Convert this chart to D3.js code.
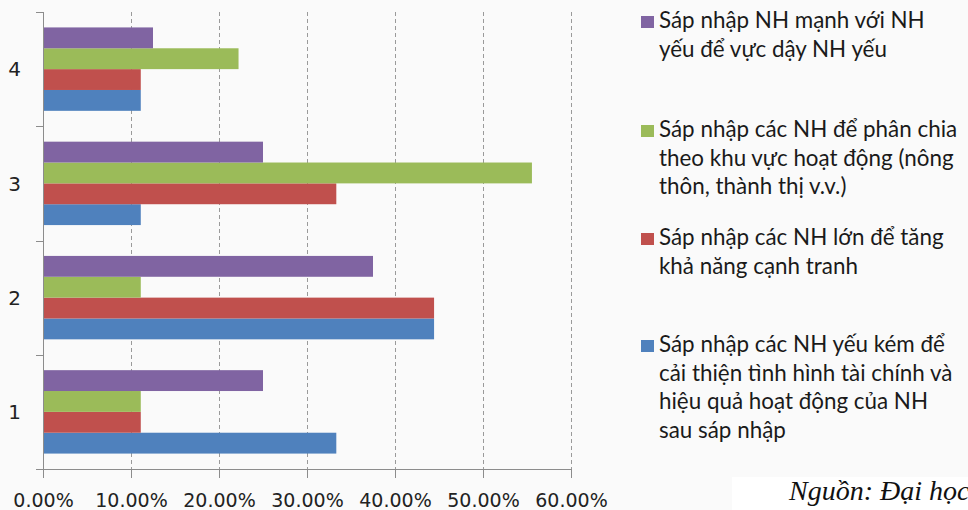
<!DOCTYPE html>
<html>
<head>
<meta charset="utf-8">
<script src="https://cdn.jsdelivr.net/npm/d3@7"></script>
<style>
  html, body { margin: 0; padding: 0; background: #fafafa; overflow: hidden; }
  svg { display: block; }
</style>
</head>
<body>
<svg id="chart" width="968" height="510"></svg>
<script>
// Categories (bottom to top on the chart)
const categories = ["1", "2", "3", "4"];

// Series, in drawing order (first series sits lowest in each group)
const seriesKeys = ["blue", "red", "green", "purple"];
const seriesColors = ["#4F81BD", "#C0504D", "#9BBB59", "#8064A2"];
const seriesLabels = [
  ["Sáp nhập các NH yếu kém để", "cải thiện tình hình tài chính và", "hiệu quả hoạt động của NH", "sau sáp nhập"],
  ["Sáp nhập các NH lớn để tăng", "khả năng cạnh tranh"],
  ["Sáp nhập các NH để phân chia", "theo khu vực hoạt động (nông", "thôn, thành thị v.v.)"],
  ["Sáp nhập NH mạnh với NH", "yếu để vực dậy NH yếu"]
];

// Shares (fraction) per category 1..4
const blueValues   = [0.3333, 0.4444, 0.1111, 0.1111];
const redValues    = [0.1111, 0.4444, 0.3333, 0.1111];
const greenValues  = [0.1111, 0.1111, 0.5556, 0.2222];
const purpleValues = [0.25,   0.375,  0.25,   0.125];
const seriesValues = [blueValues, redValues, greenValues, purpleValues];

// Axis ticks
const xTicks = [0, 0.1, 0.2, 0.3, 0.4, 0.5, 0.6];

const sourceText = "Nguồn: Đại học";

const svg = d3.select("#chart");

const plot = { left: 43, right: 571, top: 12, bottom: 469 };

const x = d3.scaleLinear().domain([0, 0.6]).range([plot.left, plot.right]);
const y0 = d3.scaleBand()
  .domain(categories.slice().reverse())
  .range([plot.top, plot.bottom])
  .paddingInner(0.27)
  .paddingOuter(0.135);
const y1 = d3.scaleBand()
  .domain(seriesKeys.slice().reverse())
  .range([0, y0.bandwidth()]);

// Vertical dashed gridlines
svg.append("g")
  .selectAll("line")
  .data(xTicks.filter(t => t > 0))
  .join("line")
  .attr("x1", d => Math.round(x(d)) + 0.5)
  .attr("x2", d => Math.round(x(d)) + 0.5)
  .attr("y1", plot.top)
  .attr("y2", plot.bottom)
  .attr("stroke", "#9a9a9a")
  .attr("stroke-width", 1)
  .attr("stroke-dasharray", "4,3");

// Bars
const rows = [];
categories.forEach((c, ci) => {
  seriesKeys.forEach((k, si) => {
    rows.push({ cat: c, key: k, value: seriesValues[si][ci], color: seriesColors[si] });
  });
});

svg.append("g")
  .selectAll("rect")
  .data(rows)
  .join("rect")
  .attr("x", x(0))
  .attr("y", d => y0(d.cat) + y1(d.key))
  .attr("width", d => x(d.value) - x(0))
  .attr("height", y1.bandwidth())
  .attr("fill", d => d.color);

// Category axis (left)
const yEdges = d3.range(categories.length + 1).map(i => plot.top + i * y0.step());
const leftAxis = svg.append("g");
leftAxis.append("line")
  .attr("x1", plot.left + 0.5).attr("x2", plot.left + 0.5)
  .attr("y1", plot.top).attr("y2", plot.bottom)
  .attr("stroke", "#8c8c8c");
leftAxis.selectAll("line.tick")
  .data(yEdges)
  .join("line")
  .attr("class", "tick")
  .attr("x1", plot.left - 7).attr("x2", plot.left)
  .attr("y1", d => Math.round(d) + 0.5).attr("y2", d => Math.round(d) + 0.5)
  .attr("stroke", "#8c8c8c");
leftAxis.selectAll("text")
  .data(categories)
  .join("text")
  .attr("x", 21)
  .attr("y", d => y0(d) + y0.bandwidth() / 2)
  .attr("dy", "0.36em")
  .attr("text-anchor", "end")
  .attr("font-family", "DejaVu Sans, sans-serif")
  .attr("font-size", 20)
  .attr("fill", "#222")
  .text(d => d);

// Value axis (bottom)
const xAxis = d3.axisBottom(x)
  .tickValues(xTicks)
  .tickSize(9)
  .tickPadding(16)
  .tickFormat(d => (d * 100).toFixed(2) + "%");
const gx = svg.append("g")
  .attr("transform", `translate(0,${plot.bottom})`)
  .call(xAxis);
gx.select(".domain").remove();
gx.selectAll(".tick line").attr("stroke", "#8c8c8c");
gx.selectAll(".tick text")
  .attr("font-family", "DejaVu Sans, sans-serif")
  .attr("font-size", 19)
  .attr("fill", "#222");
gx.append("line")
  .attr("x1", plot.left - 7).attr("x2", plot.right)
  .attr("y1", 0.5).attr("y2", 0.5)
  .attr("stroke", "#8c8c8c");

// Legend (top to bottom: purple, green, red, blue)
const legendBaselines = [28, 137, 245, 352];
const legendOrder = [3, 2, 1, 0];
const lineStep = 28.7;
const legend = svg.append("g");
legendOrder.forEach((si, i) => {
  const base = legendBaselines[i];
  legend.append("rect")
    .attr("x", 641).attr("y", base - 12)
    .attr("width", 13).attr("height", 12)
    .attr("fill", seriesColors[si]);
  const t = legend.append("text")
    .attr("font-family", "Lato, sans-serif")
    .attr("font-size", 22.4)
    .attr("fill", "#1a1a1a");
  seriesLabels[si].forEach((line, li) => {
    t.append("tspan")
      .attr("x", 659)
      .attr("y", base + li * lineStep)
      .text(line);
  });
});

// Source note, bottom right
svg.append("rect")
  .attr("x", 732).attr("y", 477)
  .attr("width", 236).attr("height", 33)
  .attr("fill", "#ffffff");
svg.append("text")
  .attr("x", 789).attr("y", 500)
  .attr("font-family", "Liberation Serif, serif")
  .attr("font-style", "italic")
  .attr("font-size", 28)
  .attr("fill", "#111")
  .text(sourceText);
</script>
</body>
</html>
